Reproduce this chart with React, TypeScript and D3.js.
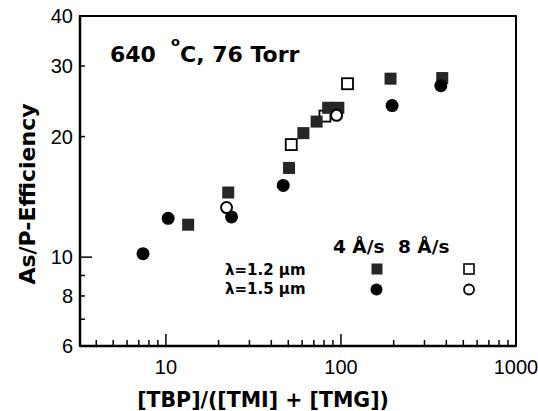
import React from "react";
import * as d3 from "d3";

// Deposition efficiency of As/P versus the gas-phase ratio [TBP]/([TMI]+[TMG])
const sq4X = [13.4, 22.7, 50.5, 61, 72.6, 84.5, 96.6, 192, 379];
const sq4Y = [12.05, 14.5, 16.7, 20.4, 21.8, 23.6, 23.6, 27.9, 28];
const sq8X = [52, 81, 109];
const sq8Y = [19.1, 22.5, 27.1];
const ci4X = [7.4, 10.3, 23.7, 46.8, 196, 372];
const ci4Y = [10.2, 12.5, 12.6, 15.1, 23.9, 26.8];
const ci8X = [22.2, 94.4];
const ci8Y = [13.3, 22.6];

const xTickLabels = [10, 100, 1000];
const yTickLabels = [6, 8, 10, 20, 30, 40];

const W = 538;
const H = 411;
const left = 80;
const right = 516;
const top = 16;
const bottom = 346;

const BOLD = "'DejaVu Sans', sans-serif";
const PLAIN = "'Liberation Sans', Arial, sans-serif";
const DARK = "#262626";

function zip(xs: number[], ys: number[]) {
  return xs.map((x, i) => ({ x, y: ys[i] }));
}

export default function App() {
  const x = d3.scaleLog().domain([3.23, 1000]).range([left, right]);
  const y = d3.scaleLog().domain([6, 40]).range([bottom, top]);

  // minor/major ticks along the x axis
  const xTicks: { v: number; major: boolean }[] = [];
  for (const dec of [1, 10, 100]) {
    for (let m = 1; m <= 9; m++) {
      const v = dec * m;
      if (v > 3.23 && v < 1000) xTicks.push({ v, major: m === 1 });
    }
  }
  const yTicks: { v: number; major: boolean }[] = [];
  for (const v of [7, 8, 9, 10, 20, 30]) yTicks.push({ v, major: v === 10 });

  const sqSize = 12;
  const r = 6.5;

  return (
    <svg
      width={W}
      height={H}
      style={{ position: "absolute", left: 0, top: 0, background: "#fff" }}
    >
      {/* frame */}
      <rect
        x={left}
        y={top}
        width={right - left}
        height={bottom - top}
        fill="none"
        stroke="#000"
        strokeWidth={2}
      />
      <line x1={left} x2={left} y1={top} y2={bottom} stroke="#000" strokeWidth={2.5} />
      <line x1={left} x2={right} y1={bottom} y2={bottom} stroke="#000" strokeWidth={2.5} />

      {/* x ticks */}
      {xTicks.map((t) => (
        <line
          key={"xt" + t.v}
          x1={x(t.v)}
          x2={x(t.v)}
          y1={bottom}
          y2={bottom - (t.major ? 12 : 6)}
          stroke="#000"
          strokeWidth={1.5}
        />
      ))}
      {xTickLabels.map((v) => (
        <text
          key={"xl" + v}
          x={x(v)}
          y={374}
          textAnchor="middle"
          fontFamily={PLAIN}
          fontSize={20}
        >
          {v}
        </text>
      ))}

      {/* y ticks */}
      {yTicks.map((t) => (
        <line
          key={"yt" + t.v}
          x1={left}
          x2={left + (t.major ? 12 : 5)}
          y1={y(t.v)}
          y2={y(t.v)}
          stroke="#000"
          strokeWidth={1.5}
        />
      ))}
      {yTickLabels.map((v) => (
        <text
          key={"yl" + v}
          x={73}
          y={y(v) + 7}
          textAnchor="end"
          fontFamily={PLAIN}
          fontSize={20}
        >
          {v}
        </text>
      ))}

      {/* axis titles */}
      <text
        transform="translate(35,194) rotate(-90)"
        textAnchor="middle"
        fontFamily={BOLD}
        fontWeight="bold"
        fontSize={22}
      >
        As/P-Efficiency
      </text>
      <text
        x={263}
        y={407}
        textAnchor="middle"
        fontFamily={BOLD}
        fontWeight="bold"
        fontSize={20.5}
      >
        [TBP]/([TMI] + [TMG])
      </text>

      {/* condition label */}
      <text x={110} y={62} fontFamily={BOLD} fontWeight="bold" fontSize={22}>
        640
        <tspan x={171} dy={-16} fontSize={13}>
          o
        </tspan>
        <tspan x={180} dy={16}>
          C, 76 Torr
        </tspan>
      </text>

      {/* 8 Å/s, λ=1.2 µm (open squares sit beneath the filled ones) */}
      {zip(sq8X, sq8Y).map((d, i) => (
        <rect
          key={"s8" + i}
          x={x(d.x) - 5.5}
          y={y(d.y) - 5.5}
          width={11}
          height={11}
          fill="#fff"
          stroke="#000"
          strokeWidth={1.8}
        />
      ))}
      {/* 4 Å/s, λ=1.2 µm */}
      {zip(sq4X, sq4Y).map((d, i) => (
        <rect
          key={"s4" + i}
          x={x(d.x) - sqSize / 2}
          y={y(d.y) - sqSize / 2}
          width={sqSize}
          height={sqSize}
          fill={DARK}
        />
      ))}
      {/* 4 Å/s, λ=1.5 µm */}
      {zip(ci4X, ci4Y).map((d, i) => (
        <circle key={"c4" + i} cx={x(d.x)} cy={y(d.y)} r={r} fill="#000" />
      ))}
      {/* 8 Å/s, λ=1.5 µm */}
      {zip(ci8X, ci8Y).map((d, i) => (
        <circle
          key={"c8" + i}
          cx={x(d.x)}
          cy={y(d.y)}
          r={5.5}
          fill="#fff"
          stroke="#000"
          strokeWidth={2}
        />
      ))}

      {/* legend */}
      <text x={333} y={253} fontFamily={BOLD} fontWeight="bold" fontSize={18.5}>
        4 Å/s
      </text>
      <text x={398} y={253} fontFamily={BOLD} fontWeight="bold" fontSize={18.5}>
        8 Å/s
      </text>
      <text x={225} y={275} fontFamily={BOLD} fontWeight="bold" fontSize={15}>
        λ=1.2 µm
      </text>
      <text x={225} y={294} fontFamily={BOLD} fontWeight="bold" fontSize={15}>
        λ=1.5 µm
      </text>
      <rect x={371.5} y={263.5} width={11} height={11} fill={DARK} />
      <rect
        x={464}
        y={264}
        width={10}
        height={10}
        fill="#fff"
        stroke="#000"
        strokeWidth={1.6}
      />
      <circle cx={376.5} cy={289.5} r={6} fill="#000" />
      <circle cx={469} cy={289.5} r={5} fill="#fff" stroke="#000" strokeWidth={1.8} />
    </svg>
  );
}
